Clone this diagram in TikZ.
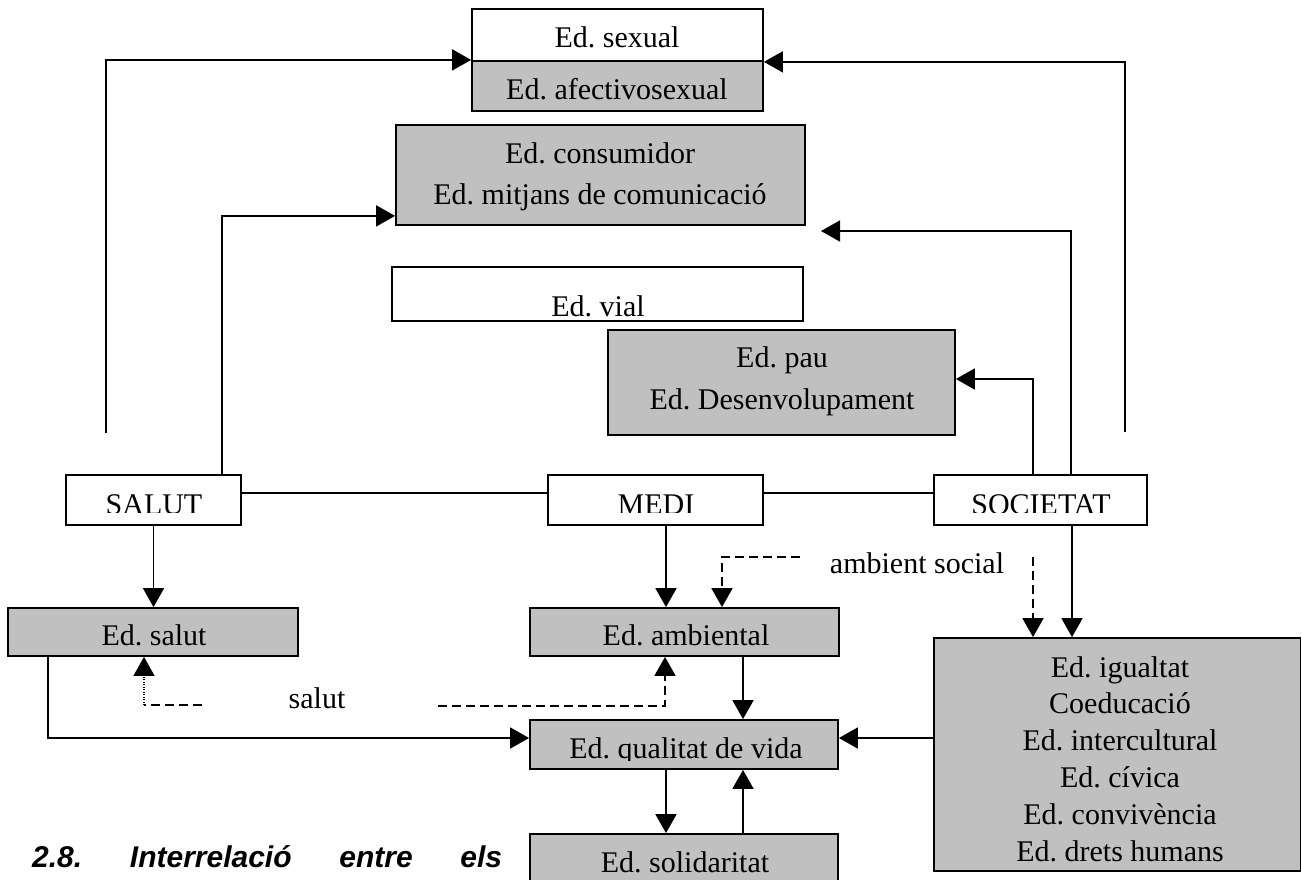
\documentclass[tikz,border=0pt]{standalone}
\usepackage{fontspec}
\setmainfont{Liberation Serif}
\newfontfamily\headfont{Liberation Sans}
\usetikzlibrary{arrows.meta,fit}
\definecolor{boxgray}{HTML}{C0C0C0}
\frenchspacing
\tikzset{
  x=1pt, y=-1pt,
  frame/.style={draw=black, line width=1.8pt, inner sep=0pt},
  wbox/.style={frame, fill=white},
  gbox/.style={frame, fill=boxgray},
  txt/.style={font=\fontsize{30}{36}\selectfont, inner sep=0pt, anchor=base},
  link/.style={line width=1.8pt},
  arr/.style={link, -{Triangle[length=19pt,width=21pt]}},
  dashlink/.style={dash pattern=on 9pt off 5pt},
  dotlink/.style={dash pattern=on 1pt off 1.5pt, line width=1.2pt}
}
\begin{document}
\begin{tikzpicture}
\useasboundingbox (0,0) rectangle (1302,879);
\clip (0,0) rectangle (1302,879);

% boxes
\node[wbox, fit={(472,9) (763,61)}] (sexual) {};
\node[gbox, fit={(472,61) (763,111)}] (afect) {};
\node[gbox, fit={(396,125) (805,225)}] (consum) {};
\node[wbox, fit={(392,267) (803,321)}] (vial) {};
\node[gbox, fit={(608,330) (955,435)}] (pau) {};
\node[wbox, fit={(66,475) (241,525)}] (salutB) {};
\node[wbox, fit={(548,475) (763,525)}] (medi) {};
\node[wbox, fit={(934,475) (1147,525)}] (soc) {};
\node[gbox, fit={(8,608) (298,656)}] (edsalut) {};
\node[gbox, fit={(530,608) (839,656)}] (ambient) {};
\node[gbox, fit={(934,638) (1300.5,871)}] (igual) {};
\node[gbox, fit={(530,720) (838,769)}] (qualitat) {};
\node[gbox, fit={(530,834) (838,900)}] (solid) {};

% box texts
\node[txt] at (617,47) {Ed. sexual};
\node[txt] at (617,99) {Ed. afectivosexual};
\node[txt] at (600,163) {Ed. consumidor};
\node[txt] at (600,204) {Ed. mitjans de comunicació};
\node[txt] at (598,316) {Ed. vial};
\node[txt] at (782,367) {Ed. pau};
\node[txt] at (782,409) {Ed. Desenvolupament};
\begin{scope}
  \clip (0,470) rectangle (1302,512);
  \node[txt] at (154,514) {SALUT};
  \node[txt] at (656,514) {MEDI};
  \node[txt] at (1041,514) {SOCIETAT};
\end{scope}
\node[txt] at (154,645) {Ed. salut};
\node[txt] at (686,645) {Ed. ambiental};
\begin{scope}
  \clip (530,720) rectangle (838,760);
  \node[txt] at (686,758) {Ed. qualitat de vida};
\end{scope}
\node[txt] at (685,872) {Ed. solidaritat};
\node[txt] at (1120,677) {Ed. igualtat};
\node[txt] at (1120,713.8) {Coeducació};
\node[txt] at (1120,750.6) {Ed. intercultural};
\node[txt] at (1120,787.4) {Ed. cívica};
\node[txt] at (1120,824.2) {Ed. convivència};
\node[txt] at (1120,861) {Ed. drets humans};

% free labels
\node[txt] (lblsoc) at (917,573) {ambient social};
\node[txt] (lblsal) at (317,708) {salut};
\node[inner sep=0pt, anchor=base west, font=\headfont\bfseries\itshape\fontsize{30}{36}\selectfont] (caption) at (32,867)
  {\makebox[470pt][s]{2.8. Interrelació entre els}};

% loose ends of connectors
\coordinate (cL1) at (106,433);
\coordinate (cR1) at (1125,432);
\coordinate (cArr) at (821,231);
\coordinate (cD1) at (800,557);
\coordinate (cD2) at (1033,557);
\coordinate (cD3) at (202,705);
\coordinate (cD4) at (144,705);
\coordinate (cD5) at (438,706);

% connectors to the upper boxes
\draw[arr] (cL1) |- ([yshift=2pt]sexual.south west);
\draw[arr] (cR1) |- (sexual.south east);
\draw[arr] ([xshift=68.5pt]salutB.north) |- ([yshift=10pt]consum.south west);
\draw[arr] ([xshift=30.5pt]soc.north) |- (cArr);
\draw[arr] ([xshift=-7.5pt]soc.north) |- ([yshift=3.5pt]pau.east);

% links between the three areas
\draw[link] ([yshift=7pt]salutB.east) -- ([yshift=7pt]medi.west);
\draw[link] ([yshift=7pt]medi.east) -- ([yshift=7pt]soc.west);

% downward connectors
\draw[arr] (salutB.south) -- (salutB.south |- edsalut.north);
\draw[arr] ([xshift=10.5pt]medi.south) -- ([xshift=-18.5pt]ambient.north);
\draw[arr, dashlink] (cD1) -| ([xshift=37.5pt]ambient.north);
\draw[arr, dashlink] (cD2) -- (cD2 |- igual.north);
\draw[arr] ([xshift=31.5pt]soc.south) -- ([xshift=-45.25pt]igual.north);

% towards quality of life
\draw[arr] ([yshift=16.5pt]igual.west) -- ([yshift=6.5pt]qualitat.east);
\draw[arr] ([xshift=-105pt]edsalut.south) |- ([yshift=6.5pt]qualitat.west);
\draw[link, dashlink] (cD3) -- (cD4);
\draw[arr, dotlink] (cD4) -- (cD4 |- edsalut.south);
\draw[arr, dashlink] (cD5) -| ([xshift=-19.5pt]ambient.south);
\draw[arr] ([xshift=58.5pt]ambient.south) -- ([xshift=59pt]qualitat.north);
\draw[arr] ([xshift=-18pt]qualitat.south) -- ([xshift=-18pt]solid.north);
\draw[arr] ([xshift=59pt]solid.north) -- ([xshift=59pt]qualitat.south);
\end{tikzpicture}
\end{document}
